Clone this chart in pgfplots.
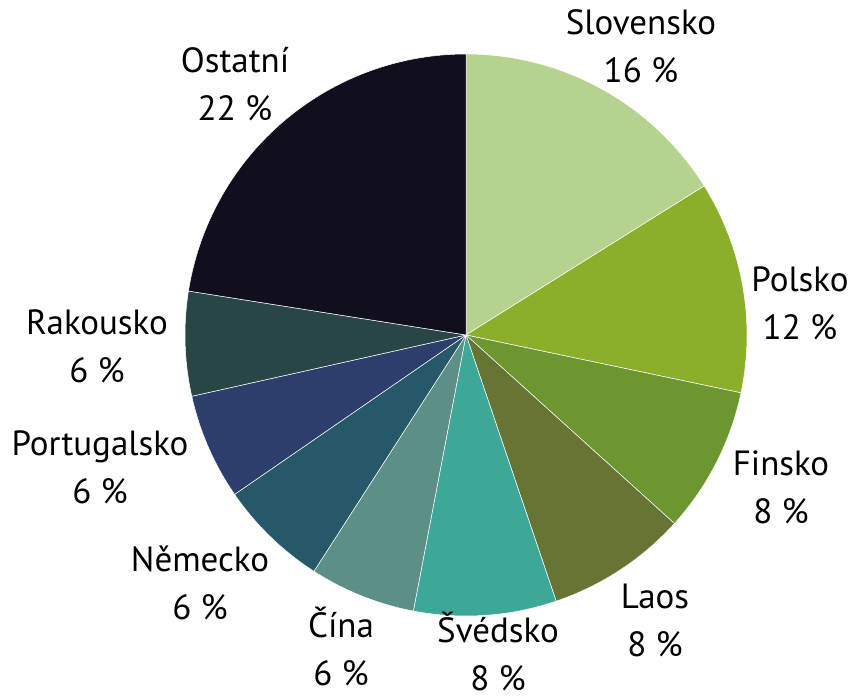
\documentclass[border=0pt]{standalone}
\usepackage{fontspec}
\setmainfont{PT Sans}
\usepackage{pgfplots}
\pgfplotsset{compat=1.18}

\definecolor{cSlo}{RGB}{181,211,143}
\definecolor{cPol}{RGB}{139,175,42}
\definecolor{cFin}{RGB}{108,150,48}
\definecolor{cLao}{RGB}{103,117,52}
\definecolor{cSwe}{RGB}{62,168,152}
\definecolor{cChn}{RGB}{92,143,134}
\definecolor{cGer}{RGB}{38,88,104}
\definecolor{cPor}{RGB}{44,62,107}
\definecolor{cAut}{RGB}{40,70,70}
\definecolor{cOth}{RGB}{17,14,30}

% slice shares in percent, clockwise from 12 o'clock
% Slovensko 16.1, Polsko 12.2, Finsko 8.4, Laos 8.1, Svedsko 8.2,
% Cina 6.1, Nemecko 6.3, Portugalsko 6.1, Rakousko 6.0, Ostatni 22.5
\newcommand{\cx}{466}
\newcommand{\cy}{363}
\newcommand{\rr}{281}

\tikzset{
  slice/.style={draw=white, line width=0.25pt, samples=60},
  lbl/.style={font=\fontsize{17.5}{24}\selectfont, align=center, text=black, inner sep=1pt}
}

\begin{document}
\begin{tikzpicture}
\begin{axis}[
  width=428.5pt, height=349pt, scale only axis,
  xmin=0, xmax=857, ymin=0, ymax=698,
  hide axis, clip=false,
]
  % wedge angles: 90 - 3.6 * cumulative share
  \addplot[slice, fill=cSlo, domain=32.04:90]
    ({\cx+\rr*cos(x)},{\cy+\rr*sin(x)}) -- (axis cs:\cx,\cy) -- cycle;
  \addplot[slice, fill=cPol, domain=-11.88:32.04]
    ({\cx+\rr*cos(x)},{\cy+\rr*sin(x)}) -- (axis cs:\cx,\cy) -- cycle;
  \addplot[slice, fill=cFin, domain=-42.12:-11.88]
    ({\cx+\rr*cos(x)},{\cy+\rr*sin(x)}) -- (axis cs:\cx,\cy) -- cycle;
  \addplot[slice, fill=cLao, domain=-71.28:-42.12]
    ({\cx+\rr*cos(x)},{\cy+\rr*sin(x)}) -- (axis cs:\cx,\cy) -- cycle;
  \addplot[slice, fill=cSwe, domain=-100.8:-71.28]
    ({\cx+\rr*cos(x)},{\cy+\rr*sin(x)}) -- (axis cs:\cx,\cy) -- cycle;
  \addplot[slice, fill=cChn, domain=-122.76:-100.8]
    ({\cx+\rr*cos(x)},{\cy+\rr*sin(x)}) -- (axis cs:\cx,\cy) -- cycle;
  \addplot[slice, fill=cGer, domain=-145.44:-122.76]
    ({\cx+\rr*cos(x)},{\cy+\rr*sin(x)}) -- (axis cs:\cx,\cy) -- cycle;
  \addplot[slice, fill=cPor, domain=-167.4:-145.44]
    ({\cx+\rr*cos(x)},{\cy+\rr*sin(x)}) -- (axis cs:\cx,\cy) -- cycle;
  \addplot[slice, fill=cAut, domain=-189:-167.4]
    ({\cx+\rr*cos(x)},{\cy+\rr*sin(x)}) -- (axis cs:\cx,\cy) -- cycle;
  \addplot[slice, fill=cOth, domain=-270:-189]
    ({\cx+\rr*cos(x)},{\cy+\rr*sin(x)}) -- (axis cs:\cx,\cy) -- cycle;

  % labels
  \node[lbl] at (axis cs:641,652) {Slovensko\\16 \%};
  \node[lbl] at (axis cs:800,395) {Polsko\\12 \%};
  \node[lbl] at (axis cs:781,211) {Finsko\\8 \%};
  \node[lbl] at (axis cs:655,78)  {Laos\\8 \%};
  \node[lbl] at (axis cs:498,47)  {Švédsko\\8 \%};
  \node[lbl] at (axis cs:341,52)  {Čína\\6 \%};
  \node[lbl] at (axis cs:200,115) {Německo\\6 \%};
  \node[lbl] at (axis cs:100,231) {Portugalsko\\6 \%};
  \node[lbl] at (axis cs:97,352)  {Rakousko\\6 \%};
  \node[lbl] at (axis cs:235,614) {Ostatní\\22 \%};
\end{axis}
\pgfresetboundingbox
\path[use as bounding box] (current axis.south west) rectangle (current axis.north east);
\end{tikzpicture}
\end{document}
